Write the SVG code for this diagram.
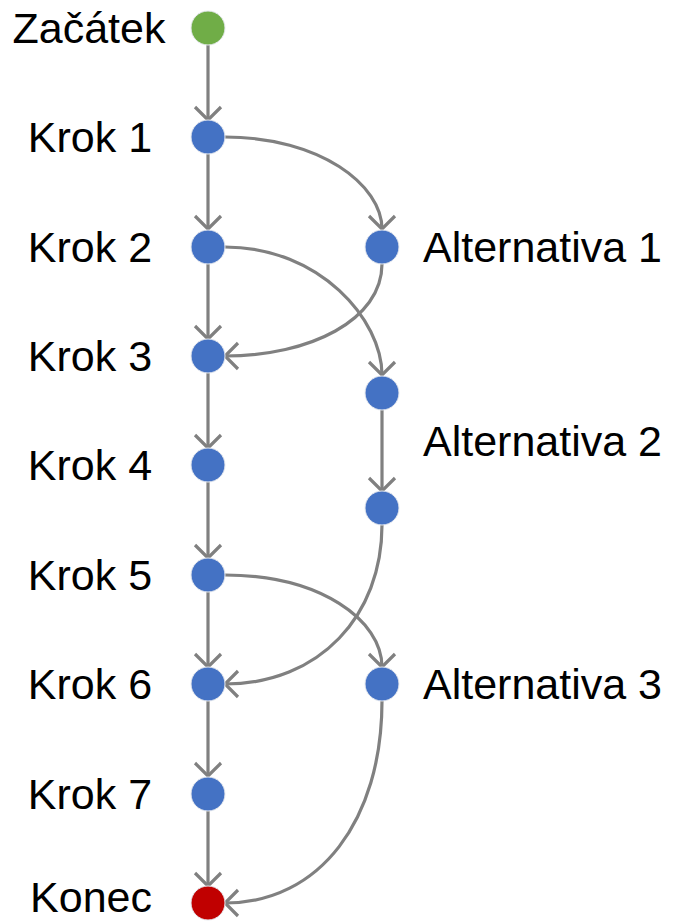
<svg xmlns="http://www.w3.org/2000/svg" width="677" height="922" viewBox="0 0 677 922">
<style>
text{font-family:"Liberation Sans",Arial,sans-serif;font-size:43px;fill:#000}
.l{text-anchor:middle}
.c{stroke:#e6e9ef;stroke-width:1}
#edges path{fill:none;stroke:#808080;stroke-width:3.2;marker-end:url(#a)}
</style>
<defs>
<marker id="a" markerUnits="userSpaceOnUse" markerWidth="30" markerHeight="30" viewBox="-15 -15 30 30" refX="0" refY="0" orient="auto">
<path d="M-13,-13 L0,0 L-13,13" fill="none" stroke="#808080" stroke-width="3.2"/>
</marker>
</defs>
<g id="edges">
<path d="M208,45 V120"/>
<path d="M208,154 V229"/>
<path d="M208,264 V339"/>
<path d="M208,373 V448"/>
<path d="M208,482 V558"/>
<path d="M208,592 V667"/>
<path d="M208,701 V776"/>
<path d="M208,811 V886"/>
<path d="M225,137 C320,137 382,185 382,229"/>
<path d="M225,247 C320,247 382,320 382,375"/>
<path d="M382,264 C382,320 310,356 225,356"/>
<path d="M382,410 V491"/>
<path d="M382,525 C382,615 320,684 225,684"/>
<path d="M225,575 C320,575 382,620 382,667"/>
<path d="M382,701 C382,820 320,903 225,903"/>
</g>
<g id="start"><circle class="c" cx="208" cy="28" r="17" fill="#70AD47"/><text class="l" x="89" y="43">Začátek</text></g>
<g id="krok1"><circle class="c" cx="208" cy="137" r="17" fill="#4472C4"/><text class="l" x="90" y="152">Krok 1</text></g>
<g id="krok2"><circle class="c" cx="208" cy="247" r="17" fill="#4472C4"/><text class="l" x="90" y="262">Krok 2</text></g>
<g id="krok3"><circle class="c" cx="208" cy="356" r="17" fill="#4472C4"/><text class="l" x="90" y="371">Krok 3</text></g>
<g id="krok4"><circle class="c" cx="208" cy="465" r="17" fill="#4472C4"/><text class="l" x="90" y="480">Krok 4</text></g>
<g id="krok5"><circle class="c" cx="208" cy="575" r="17" fill="#4472C4"/><text class="l" x="90" y="590">Krok 5</text></g>
<g id="krok6"><circle class="c" cx="208" cy="684" r="17" fill="#4472C4"/><text class="l" x="90" y="699">Krok 6</text></g>
<g id="krok7"><circle class="c" cx="208" cy="794" r="17" fill="#4472C4"/><text class="l" x="90" y="809">Krok 7</text></g>
<g id="konec"><circle class="c" cx="208" cy="903" r="17" fill="#C00000"/><text class="l" x="91" y="912">Konec</text></g>
<g id="alt1"><circle class="c" cx="382" cy="247" r="17" fill="#4472C4"/><text x="423" y="262">Alternativa 1</text></g>
<g id="alt2a"><circle class="c" cx="382" cy="393" r="17" fill="#4472C4"/></g>
<g id="alt2b"><circle class="c" cx="382" cy="508" r="17" fill="#4472C4"/></g>
<text id="alt2label" x="423" y="456">Alternativa 2</text>
<g id="alt3"><circle class="c" cx="382" cy="684" r="17" fill="#4472C4"/><text x="423" y="699">Alternativa 3</text></g>
</svg>
